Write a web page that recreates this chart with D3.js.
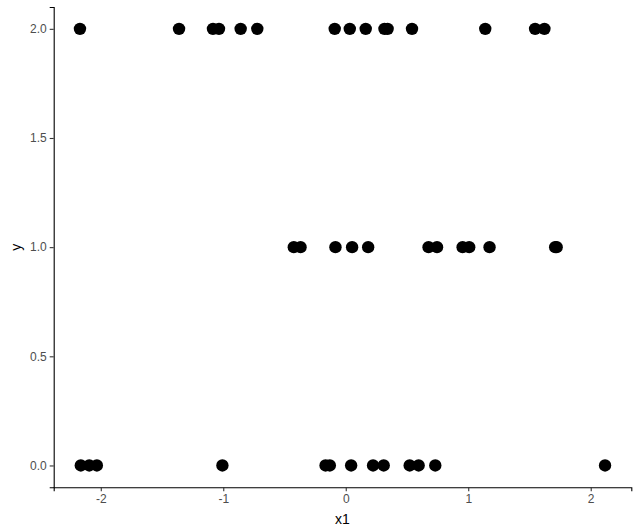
<!DOCTYPE html>
<html>
<head>
<meta charset="utf-8">
<script src="https://cdn.jsdelivr.net/npm/d3@7"></script>
<style>
  body { margin: 0; background: #fff; }
  svg { display: block; font-family: "Liberation Sans", Arial, sans-serif; }
</style>
</head>
<body>
<div id="chart"></div>
<script>
// x1 values for each y level
const x1AtY2 = [-2.170, -1.361, -1.084, -1.035, -0.858, -0.722, -0.090, 0.033, 0.163,
                0.316, 0.342, 0.541, 1.139, 1.546, 1.622];
const x1AtY1 = [-0.424, -0.369, -0.084, 0.052, 0.183, 0.676, 0.745, 0.954, 1.008,
                1.174, 1.710, 1.722];
const x1AtY0 = [-2.163, -2.094, -2.032, -1.007, -0.165, -0.130, 0.044, 0.223, 0.310,
                0.522, 0.595, 0.731, 2.117];
const xTicks = [-2, -1, 0, 1, 2];
const yTicks = [0, 0.5, 1, 1.5, 2];

const points = [];
x1AtY2.forEach(v => points.push({x1: v, y: 2}));
x1AtY1.forEach(v => points.push({x1: v, y: 1}));
x1AtY0.forEach(v => points.push({x1: v, y: 0}));

const W = 640, H = 531;
const margin = {top: 7, right: 8.7, bottom: 43.7, left: 53.7};
const width = W - margin.left - margin.right;
const height = H - margin.top - margin.bottom;

const svg = d3.select("#chart").append("svg")
    .attr("width", W)
    .attr("height", H);

const g = svg.append("g")
    .attr("transform", `translate(${margin.left},${margin.top})`);

// ggplot style 5% expansion
const xExt = d3.extent(points, d => d.x1);
const xPad = (xExt[1] - xExt[0]) * 0.05;
const x = d3.scaleLinear()
    .domain([xExt[0] - xPad, xExt[1] + xPad])
    .range([0, width]);

const y = d3.scaleLinear()
    .domain([-0.1, 2.1])
    .range([height, 0]);

const xAxis = g.append("g")
    .attr("transform", `translate(0,${height})`)
    .call(d3.axisBottom(x).tickValues(xTicks).tickFormat(d => String(d)).tickSizeOuter(0).tickSize(4).tickPadding(3));

const yAxis = g.append("g")
    .call(d3.axisLeft(y).tickValues(yTicks).tickFormat(d => d.toFixed(1)).tickSizeOuter(0).tickSize(4).tickPadding(3));

[xAxis, yAxis].forEach(a => {
    a.select(".domain").attr("stroke", "#000").attr("stroke-width", 1.1);
    a.selectAll(".tick line").attr("stroke", "#333").attr("stroke-width", 1.1);
    a.selectAll(".tick text")
        .attr("fill", "#4D4D4D")
        .attr("font-size", "12px")
        .attr("font-family", "Liberation Sans, Arial, sans-serif");
});

g.selectAll("circle.pt")
    .data(points)
    .enter()
    .append("circle")
    .attr("class", "pt")
    .attr("cx", d => x(d.x1))
    .attr("cy", d => y(d.y))
    .attr("r", 6.2)
    .attr("fill", "#000");

svg.append("text")
    .attr("x", margin.left + width / 2)
    .attr("y", 524)
    .attr("text-anchor", "middle")
    .attr("font-size", "14px")
    .attr("fill", "#000")
    .text("x1");

svg.append("text")
    .attr("transform", `translate(21,${margin.top + height / 2}) rotate(-90)`)
    .attr("text-anchor", "middle")
    .attr("font-size", "14px")
    .attr("fill", "#000")
    .text("y");
</script>
</body>
</html>
